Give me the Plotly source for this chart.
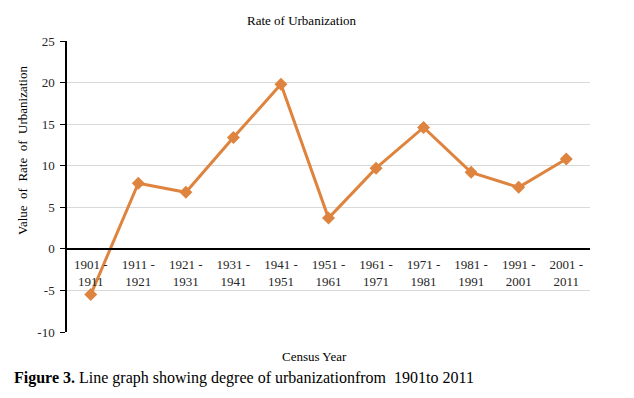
import plotly.graph_objects as go

categories = ["1901 -<br>1911", "1911 -<br>1921", "1921 -<br>1931", "1931 -<br>1941",
              "1941 -<br>1951", "1951 -<br>1961", "1961 -<br>1971", "1971 -<br>1981",
              "1981 -<br>1991", "1991 -<br>2001", "2001 -<br>2011"]
values = [-5.5, 7.9, 6.8, 13.4, 19.8, 3.7, 9.7, 14.6, 9.2, 7.4, 10.8]
y_ticks = [-10, -5, 0, 5, 10, 15, 20, 25]
y_ticktext = ["-10", "-5", "0", "5", "10", "15", "20", "25"]

ymin, ymax = -10, 25
color = "#DE843F"
fam = "Liberation Serif"

fig = go.Figure()
fig.add_trace(go.Scatter(
    x=categories, y=values, mode="lines+markers",
    line=dict(color=color, width=3),
    marker=dict(symbol="diamond", size=10, color=color),
    showlegend=False,
))

fig.update_layout(
    width=634, height=398,
    margin=dict(l=67, r=44, t=41, b=66),
    paper_bgcolor="white", plot_bgcolor="white",
    font=dict(family=fam, size=13, color="black"),
    xaxis=dict(
        type="category",
        anchor="free",
        position=(0 - ymin) / (ymax - ymin),
        showline=True, linecolor="black", linewidth=1.5,
        showgrid=False, ticks="", ticklabelstandoff=4,
        tickfont=dict(family=fam, size=13, color="#262626"),
        range=[-0.5, len(categories) - 0.5],
    ),
    yaxis=dict(
        range=[ymin, ymax], tickvals=y_ticks, ticktext=y_ticktext,
        showline=True, linecolor="black", linewidth=1.5,
        ticks="outside", ticklen=5, tickcolor="black", ticklabelstandoff=3,
        showgrid=True, gridcolor="#D9D9D9", gridwidth=1,
        zeroline=False, tickfont=dict(family=fam, size=13, color="#262626"),
    ),
    annotations=[
        dict(text="Rate of Urbanization", xref="paper", yref="paper",
             x=(302 - 67) / 523, y=1 + (41 - 20) / 291, showarrow=False,
             font=dict(family=fam, size=13, color="black"), xanchor="center", yanchor="middle"),
        dict(text="Value&nbsp; of&nbsp; Rate&nbsp; of&nbsp; Urbanization", xref="paper", yref="paper",
             x=(22 - 67) / 523, y=(332 - 151) / 291, showarrow=False, textangle=-90,
             font=dict(family=fam, size=13, color="black"), xanchor="center", yanchor="middle"),
        dict(text="Census Year", xref="paper", yref="paper",
             x=(314 - 67) / 523, y=(332 - 356) / 291, showarrow=False,
             font=dict(family=fam, size=13, color="black"), xanchor="center", yanchor="middle"),
        dict(text="<b>Figure 3.</b> Line graph showing degree of urbanizationfrom&nbsp; 1901to 2011",
             xref="paper", yref="paper",
             x=(12 - 67) / 523, y=(332 - 378) / 291, showarrow=False,
             font=dict(family=fam, size=16, color="black"), xanchor="left", yanchor="middle"),
    ],
)

fig.write_html("out.html")
